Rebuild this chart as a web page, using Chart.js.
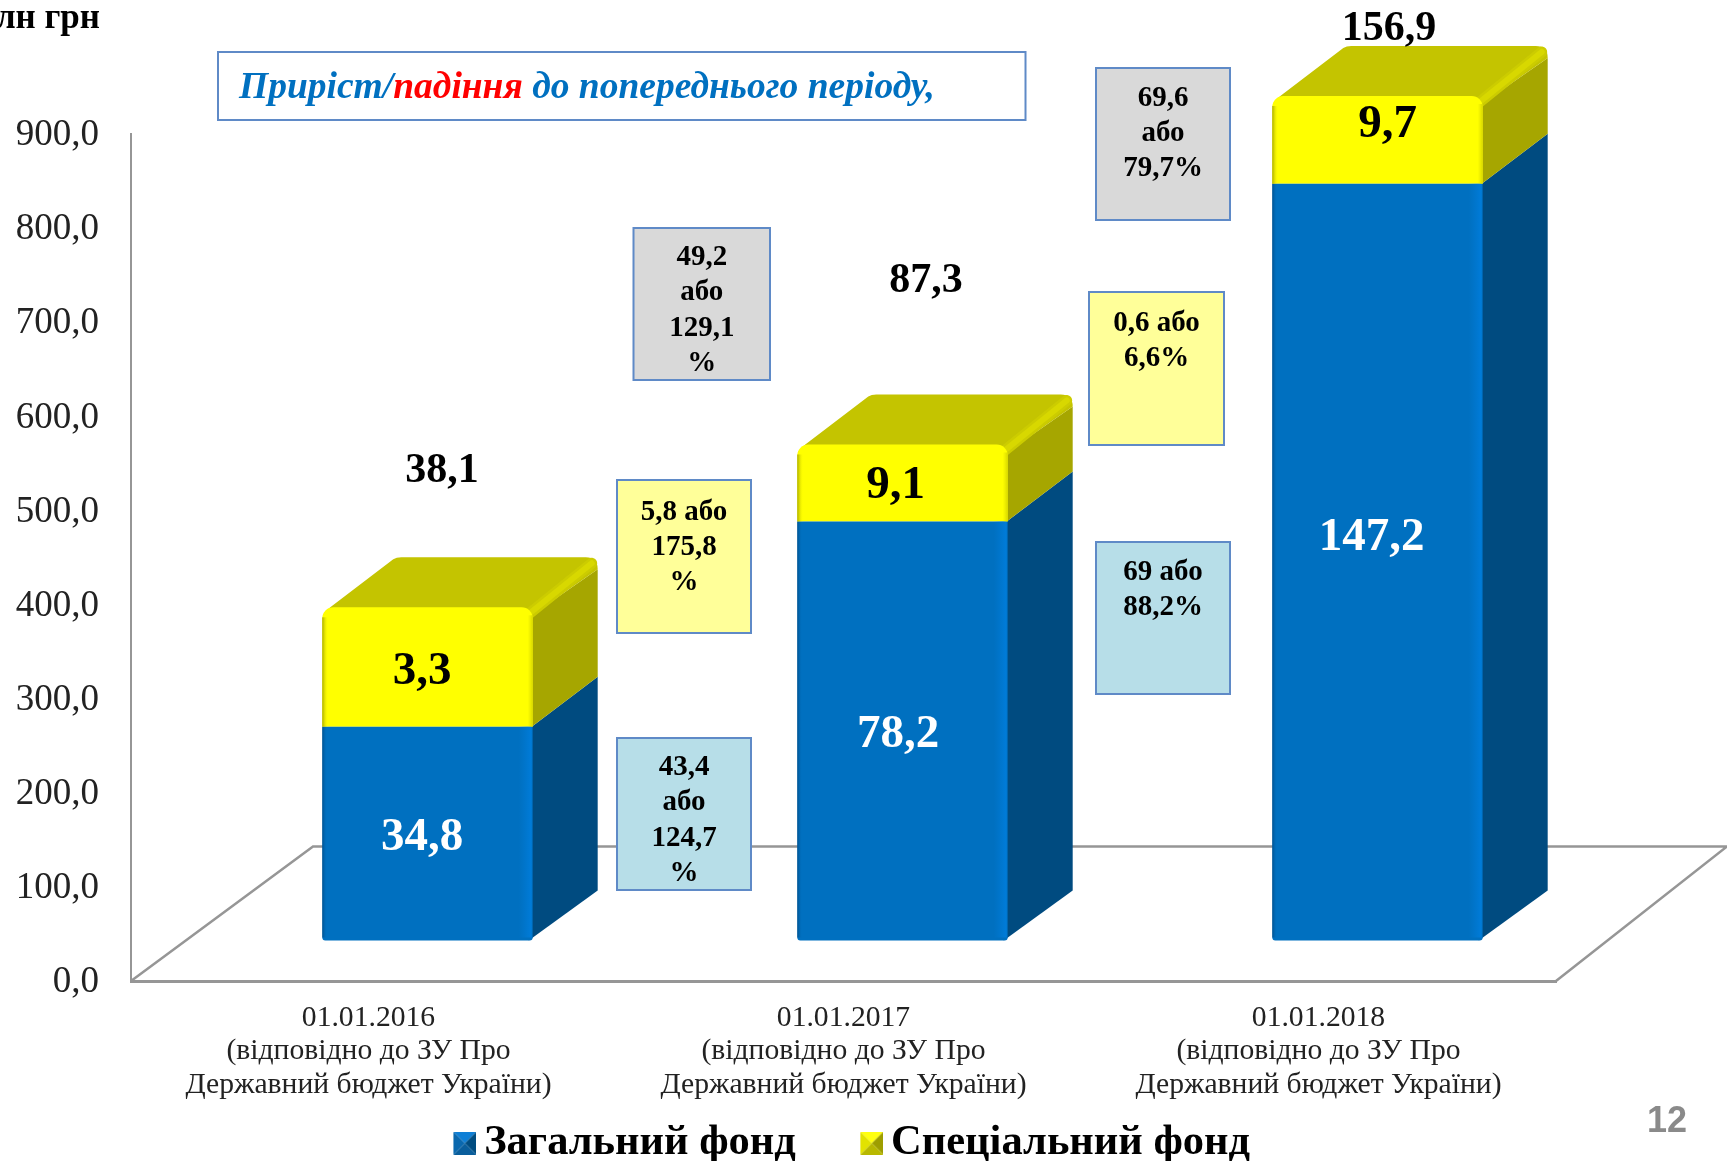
<!DOCTYPE html>
<html lang="uk">
<head>
<meta charset="utf-8">
<title>Загальний і спеціальний фонд</title>
<script src="https://cdn.jsdelivr.net/npm/chart.js@4"></script>
<style>
html,body{margin:0;padding:0;background:#fff;overflow:hidden}
#wrap{position:relative;width:1727px;height:1161px}
canvas{display:block}
</style>
</head>
<body>
<div id="wrap"><canvas id="c" width="1727" height="1161"></canvas></div>
<script>
// ---- data ----
const categories = [
  ['01.01.2016', '(відповідно до ЗУ Про', 'Державний бюджет України)'],
  ['01.01.2017', '(відповідно до ЗУ Про', 'Державний бюджет України)'],
  ['01.01.2018', '(відповідно до ЗУ Про', 'Державний бюджет України)']
];
const seriesNames = ['Загальний фонд', 'Спеціальний фонд'];
const generalFund = [227.7, 445.7, 804.6];
const specialFund = [126.9, 81.9, 93.3];
const generalLabels = ['34,8', '78,2', '147,2'];
const specialLabels = ['3,3', '9,1', '9,7'];
const totalLabels = ['38,1', '87,3', '156,9'];
const unitLabel = 'млн грн';
const headerParts = ['Приріст/', 'падіння', ' до попереднього періоду,'];
const totalChangeLines = [['49,2', 'або', '129,1', '%'], ['69,6', 'або', '79,7%']];
const specialChangeLines = [['5,8 або', '175,8', '%'], ['0,6 або', '6,6%']];
const generalChangeLines = [['43,4', 'або', '124,7', '%'], ['69 або', '88,2%']];
const pageNumber = '12';

// ---- presentation ----
const SERIF = '"Liberation Serif"';
const DEPTH = {x: 65, y: 50};          // 3D depth of the bars
const FRONT = {x: 59, y: -40};         // bars stand this far behind the axis plane
const TEXT_DY = 2.2;
const totalPos = [[442, 469], [926, 279], [1389, 27]];
const generalOff = [[-5.5, 2], [-4.5, 1.5], [-6, -26]];
const specialOff = [[-5.5, 2.5], [-7, 1], [10, -17]];
const boxGeo = {
  total:   [[633.5, 228, 136.5, 152, 255.5], [1096, 68, 134, 152, 96]],
  special: [[617, 480, 134, 153, 510], [1089, 292, 135, 153, 321.6]],
  general: [[617, 738, 134, 152, 765.5], [1096, 542, 134, 152, 570.5]]
};
const boxFill = {total: '#D9D9D9', special: '#FFFF99', general: '#B7DEE8'};
const GRAY = '#969696';

function legendIcon(top, left, right, bottom) {
  const s = 23, pad = 5, cv = document.createElement('canvas');
  cv.width = s + pad; cv.height = s;
  const g = cv.getContext('2d');
  g.translate(pad, 0);
  const c = s / 2;
  const tri = (ax, ay, bx, by, col) => {
    g.fillStyle = col; g.beginPath(); g.moveTo(ax, ay); g.lineTo(bx, by); g.lineTo(c, c); g.closePath(); g.fill();
  };
  tri(0, 0, s, 0, top); tri(0, 0, 0, s, left); tri(s, 0, s, s, right); tri(0, s, s, s, bottom);
  return cv;
}
const icons = [
  legendIcon('#0E7FD6', '#0A68AE', '#004C80', '#0A5E9C'),
  legendIcon('#FFFF10', '#E2E200', '#9E9E00', '#B8B800')
];

function text(ctx, s, x, y, font, color, align) {
  ctx.font = font; ctx.fillStyle = color;
  ctx.textAlign = align || 'center'; ctx.textBaseline = 'middle';
  ctx.fillText(s, x, y + TEXT_DY);
}

const bars3d = {
  id: 'bars3d',
  afterLayout(chart) {
    const lg = chart.legend;
    lg.left = 0; lg.right = 1712; lg.top = 1049;
  },
  beforeDraw(chart) {
    // the tick labels sit slightly below their tick position
    chart.scales.y.getLabelItems(chart.chartArea).forEach(it => {
      if (!it.shifted) { it.textOffset += 1.5; it.shifted = true; }
    });
  },
  beforeDatasetsDraw(chart) {
    const ctx = chart.ctx, a = chart.chartArea;
    // floor of the 3D box
    ctx.save();
    ctx.strokeStyle = GRAY; ctx.lineWidth = 2.5;
    ctx.beginPath();
    ctx.moveTo(a.left, a.bottom); ctx.lineTo(a.left + 182, a.bottom - 134.5); ctx.lineTo(1727, a.bottom - 134.5);
    ctx.moveTo(a.right, a.bottom); ctx.lineTo(1727, a.bottom - 134.5);
    ctx.stroke();
    ctx.translate(FRONT.x, FRONT.y);
    const dx = DEPTH.x, dy = DEPTH.y;
    const gen = chart.getDatasetMeta(0).data, spc = chart.getDatasetMeta(1).data;
    gen.forEach((g, i) => {
      const s = spc[i], w = g.width, L = g.x - w / 2, R = g.x + w / 2;
      const base = g.base, mid = g.y, top = s.y;
      // blue side
      ctx.fillStyle = '#004B80';
      ctx.beginPath();
      ctx.moveTo(R - 4, base); ctx.lineTo(R + dx, base - dy); ctx.lineTo(R + dx, mid - dy); ctx.lineTo(R - 1, mid); ctx.closePath(); ctx.fill();
      // yellow side
      ctx.fillStyle = '#A6A600';
      ctx.beginPath();
      ctx.moveTo(R - 1, mid); ctx.lineTo(R + dx, mid - dy); ctx.lineTo(R + dx, top - dy + 12);
      ctx.lineTo(R - 1, top + 8); ctx.closePath(); ctx.fill();
      // top face
      ctx.fillStyle = '#C4C400';
      ctx.beginPath();
      ctx.moveTo(L + 2, top + 7); ctx.quadraticCurveTo(L + 4, top + 3, L + 8, top);
      ctx.lineTo(L + dx + 6, top - dy + 2); ctx.quadraticCurveTo(L + dx + 9, top - dy, L + dx + 14, top - dy);
      ctx.lineTo(R + dx - 12, top - dy); ctx.quadraticCurveTo(R + dx, top - dy, R + dx, top - dy + 12);
      ctx.lineTo(R - 1, top + 8); ctx.closePath(); ctx.fill();
      // lighter ridge between top and side
      ctx.lineCap = 'round';
      ctx.strokeStyle = '#CCCC00'; ctx.lineWidth = 11;
      ctx.beginPath(); ctx.moveTo(R - 3, top + 6); ctx.lineTo(R + dx - 6, top - dy + 6); ctx.stroke();
      ctx.strokeStyle = '#D8D800'; ctx.lineWidth = 6;
      ctx.beginPath(); ctx.moveTo(R - 3, top + 6); ctx.lineTo(R + dx - 6, top - dy + 6); ctx.stroke();
      ctx.lineCap = 'butt';
    });
  },
  afterDatasetsDraw(chart) {
    const ctx = chart.ctx;
    const gen = chart.getDatasetMeta(0).data, spc = chart.getDatasetMeta(1).data;
    const strip = (x0, x1, y0, y1, c0, c1) => {
      const gr = ctx.createLinearGradient(x0, 0, x1, 0);
      gr.addColorStop(0, c0); gr.addColorStop(1, c1);
      ctx.fillStyle = gr;
      ctx.fillRect(Math.min(x0, x1), y0, Math.abs(x1 - x0), y1 - y0);
    };
    gen.forEach((g, i) => {
      const s = spc[i], w = g.width, L = g.x - w / 2, R = g.x + w / 2;
      // bevels on the front faces
      strip(L, L + 5, g.y, g.base - 3, 'rgba(0,70,125,.75)', 'rgba(0,112,192,0)');
      strip(R - 14, R - 1, g.y, g.base - 3, 'rgba(0,122,214,0)', 'rgba(0,124,218,1)');
      strip(L, L + 6, s.y + 10, s.base, 'rgba(170,170,0,1)', 'rgba(255,255,0,0)');
      strip(R - 5, R, s.y + 8, s.base, 'rgba(225,225,0,0)', 'rgba(215,215,0,1)');
    });
    ctx.restore();

    // value labels, placed from the bars
    gen.forEach((g, i) => {
      const s = spc[i];
      text(ctx, generalLabels[i], g.x + FRONT.x + generalOff[i][0], (g.y + g.base) / 2 + FRONT.y + generalOff[i][1],
        'bold 47px ' + SERIF, '#FFFFFF');
      text(ctx, specialLabels[i], s.x + FRONT.x + specialOff[i][0], (s.y + s.base) / 2 + FRONT.y + specialOff[i][1],
        'bold 47px ' + SERIF, '#000000');
      text(ctx, totalLabels[i], totalPos[i][0], totalPos[i][1], 'bold 42px ' + SERIF, '#000000');
    });

    // change boxes
    const groups = {total: totalChangeLines, special: specialChangeLines, general: generalChangeLines};
    Object.keys(groups).forEach(k => {
      groups[k].forEach((lines, i) => {
        const [x, y, w, h, first] = boxGeo[k][i];
        ctx.fillStyle = boxFill[k];
        ctx.fillRect(x, y, w, h);
        ctx.strokeStyle = '#5F8AC7'; ctx.lineWidth = 2;
        ctx.strokeRect(x, y, w, h);
        lines.forEach((t, n) => text(ctx, t, x + w / 2, first + n * 35.2, 'bold 29px ' + SERIF, '#000000'));
      });
    });

    // header box
    ctx.fillStyle = '#FFFFFF'; ctx.fillRect(218, 52, 807.5, 68);
    ctx.strokeStyle = '#5F8AC7'; ctx.lineWidth = 2; ctx.strokeRect(218, 52, 807.5, 68);
    const hf = 'italic bold 37.5px ' + SERIF, hc = ['#0070C0', '#FF0000', '#0070C0'];
    let hx = 239;
    headerParts.forEach((p, i) => {
      text(ctx, p, hx, 86, hf, hc[i], 'left');
      hx += ctx.measureText(p).width;
    });

    // unit caption clipped by the page edge, page number
    text(ctx, unitLabel, 100, 17, 'bold 35px ' + SERIF, '#000000', 'right');
    text(ctx, pageNumber, 1667, 1120, 'bold 36px "Liberation Sans"', '#8A8A8A');
  }
};

new Chart(document.getElementById('c'), {
  type: 'bar',
  data: {
    labels: categories,
    datasets: [
      {label: seriesNames[0], data: generalFund, backgroundColor: '#0070C0',
       borderSkipped: false, borderRadius: {topLeft: 0, topRight: 0, bottomLeft: 3, bottomRight: 3}, clip: false},
      {label: seriesNames[1], data: specialFund, backgroundColor: '#FFFF00',
       borderSkipped: false, borderRadius: {topLeft: 11, topRight: 11, bottomLeft: 0, bottomRight: 0}, clip: false}
    ]
  },
  options: {
    responsive: false,
    animation: false,
    events: [],
    layout: {padding: {top: 134, right: 171, left: 0, bottom: 0}},
    datasets: {bar: {categoryPercentage: 0.443, barPercentage: 1}},
    scales: {
      x: {
        stacked: true,
        afterFit(s) { s.height = 180 - (s.chart.legend ? s.chart.legend.height : 56); },
        grid: {display: false, drawTicks: false},
        border: {display: true, color: GRAY, width: 3},
        ticks: {
          color: '#222', autoSkip: false, maxRotation: 0, minRotation: 0, padding: 20,
          font: {family: SERIF, size: 29.65, lineHeight: 1.133}
        }
      },
      y: {
        stacked: true, min: 0, max: 900,
        afterFit(s) { s.width = 131; },
        grid: {drawOnChartArea: false, drawTicks: false},
        border: {display: true, color: GRAY, width: 2},
        ticks: {
          stepSize: 100, color: '#222', padding: 32,
          font: {family: SERIF, size: 37},
          callback: v => v.toFixed(1).replace('.', ',')
        }
      }
    },
    plugins: {
      tooltip: {enabled: false},
      legend: {
        position: 'bottom',
        maxHeight: 56,
        labels: {
          color: '#000',
          font: {family: SERIF, size: 42.5, weight: 'bold'},
          usePointStyle: true,
          pointStyleWidth: 1,
          padding: 73,
          generateLabels: chart => chart.data.datasets.map((d, i) => ({
            text: d.label, pointStyle: icons[i], datasetIndex: i, fontColor: '#000', lineWidth: 0
          }))
        }
      }
    }
  },
  plugins: [bars3d]
});
</script>
</body>
</html>
